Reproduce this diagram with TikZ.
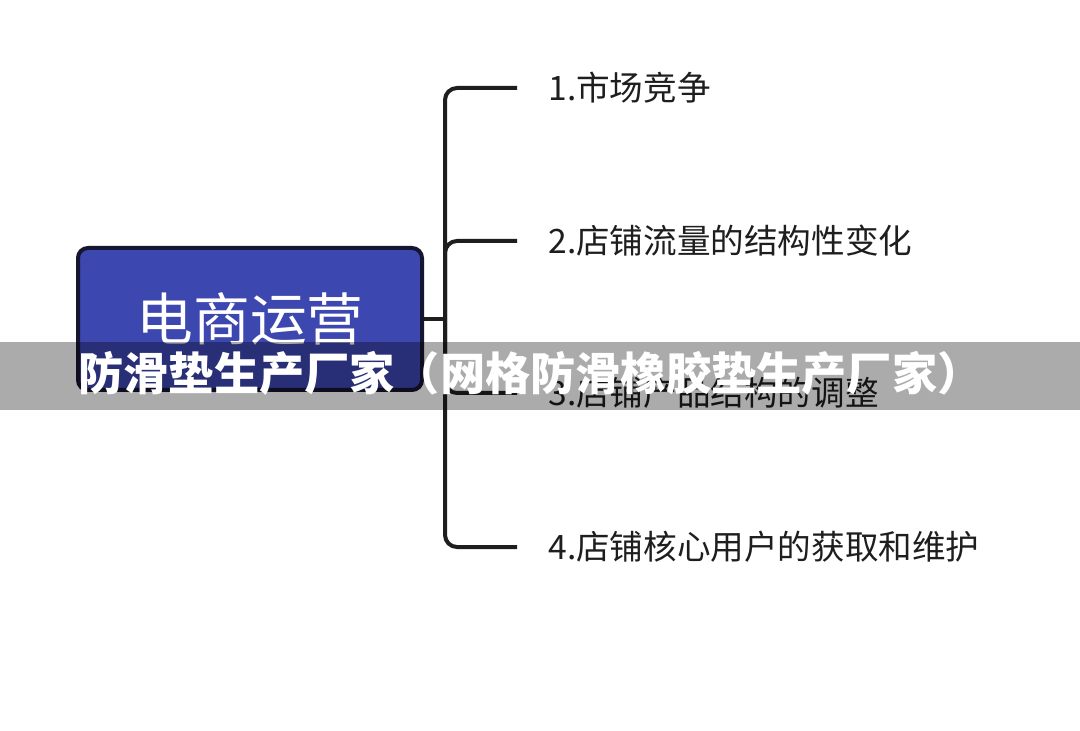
\documentclass[tikz,border=0pt]{standalone}
\usepackage{fontspec}
\newfontfamily\cjk{Noto Sans CJK SC}
\definecolor{boxblue}{RGB}{61,71,176}
\definecolor{boxedge}{RGB}{22,22,48}
\definecolor{inkdark}{RGB}{30,30,30}

\tikzset{
          mainbox/.style = {draw = boxedge, fill = boxblue, line width = 2pt, rounded corners = 5pt,
                            minimum width = 172pt, minimum height = 71pt, text = white, font = \cjk\fontsize{28.4pt}{30pt}\selectfont},
          branch/.style = {draw = inkdark, line width = 2pt, rounded corners = 6pt},
          item/.style = {anchor = west, inner sep = 0pt, text = inkdark, font = \cjk\fontsize{16.8pt}{18pt}\selectfont},
          banner/.style = {fill = black, opacity = 0.33},
          bannertext/.style = {anchor = west, inner sep = 0pt, text = white, font = \cjk\bfseries\fontsize{22.6pt}{24pt}\selectfont}
        }

\begin{document}
\begin{tikzpicture}[x=0.5pt,y=-0.5pt]
          \useasboundingbox[fill=white] (0,0) rectangle (1080,731);

          \node[mainbox] (main) at (250,319) {电商运营};
          \coordinate (hub) at (445,319);
          \draw[branch] (main.east) -- (hub);

          \foreach \i/\yi/\t in {1/88/{1.市场竞争},2/241/{2.店铺流量的结构性变化},3/393/{3.店铺产品结构的调整},4/547/{4.店铺核心用户的获取和维护}}{
            \coordinate (end\i) at (517,\yi);
            \node[item] (item\i) at (548,\yi) {\t};
            \draw[branch] (hub) |- (end\i);
          }

          % watermark strip
          \fill[banner] (0,342) rectangle (1080,410);
          \node[bannertext] (mark) at (78,373) {防滑垫生产厂家（网格防滑橡胶垫生产厂家）};
        \end{tikzpicture}
\end{document}
